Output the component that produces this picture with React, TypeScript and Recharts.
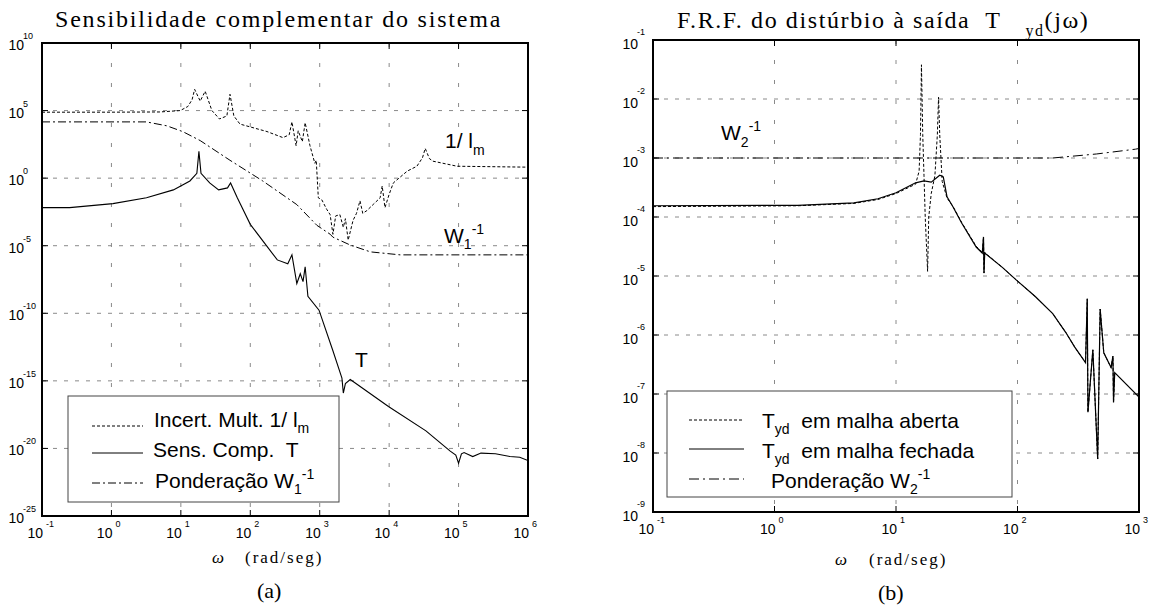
import { LineChart, Line, XAxis, YAxis, CartesianGrid } from 'recharts'

// ---- panel (a): Sensibilidade complementar ----
const xTicksA = [0.1, 1, 10, 100, 1e3, 1e4, 1e5, 1e6]
const yTicksA = [1e-25, 1e-20, 1e-15, 1e-10, 1e-5, 1, 1e5, 1e10]

const wIncert = [0.1, 1, 5, 9.8, 12.6, 14.5, 15.8, 19, 22.4, 28, 36, 46, 51, 58, 71, 174, 295, 363, 398, 457, 490, 562, 617, 724, 851, 891, 955, 1072, 1259, 1413, 1549, 1698, 1950, 2188, 2344, 2570, 3020, 3388, 3802, 4169, 4786, 6026, 7413, 7943, 8710, 10000, 11480, 18200, 25100, 30200, 33100, 38000, 42700, 95500, 1e6]
const magIncert = [7.6e4, 7.6e4, 7.9e4, 1e5, 2e5, 6.3e5, 3.7e6, 5e5, 2.7e6, 1e5, 2.4e4, 4e4, 1.6e6, 4e4, 1e4, 2.8e3, 1e3, 1.6e3, 1.45e4, 250, 3.2e3, 500, 1.26e4, 250, 12.6, 21, 0.035, 0.025, 5e-3, 2e-3, 7e-5, 1.6e-3, 2e-3, 2.3e-4, 1e-3, 2.6e-5, 7.4e-4, 2.5e-3, 0.021, 2.5e-3, 4e-3, 0.0126, 0.035, 0.26, 6.6e-3, 0.063, 0.44, 3.3, 7.6, 32, 158, 28, 18, 7.6, 6.5]

const wW1 = [0.1, 3.2, 6.3, 10.7, 19, 51, 151, 468, 912, 1413, 1549, 2754, 5370, 14450, 1e6]
const magW1 = [1.45e4, 1.45e4, 7.4e3, 2.75e3, 600, 21, 0.62, 0.011, 3.2e-4, 7.1e-5, 4.3e-5, 1.12e-5, 3.5e-6, 2.1e-6, 2.1e-6]

const wT = [0.1, 0.25, 1.05, 3.2, 7.8, 13.5, 17, 18.2, 19.5, 26, 35, 47, 52, 65, 100, 245, 347, 398, 468, 525, 575, 617, 676, 977, 1549, 2089, 2188, 2344, 2754, 9772, 33880, 75860, 91200, 1e5, 1.1e5, 1.2e5, 1.6e5, 2.1e5, 3.4e5, 5.5e5, 7.6e5, 1e6]
const magT = [6.6e-3, 6.6e-3, 0.013, 0.035, 0.135, 0.62, 2.3, 95, 2.3, 0.44, 0.135, 0.19, 0.44, 0.035, 3.8e-4, 8.9e-7, 4.6e-7, 2.1e-6, 1.6e-8, 8.5e-8, 2.2e-8, 2.75e-7, 1.8e-9, 1.7e-10, 1.7e-13, 1.6e-15, 1.26e-16, 6.3e-16, 1.26e-15, 1.26e-17, 2e-19, 6.3e-21, 3.2e-21, 8e-22, 4e-21, 5e-21, 2.5e-21, 4.5e-21, 4e-21, 2.5e-21, 2.2e-21, 1.26e-21]

// ---- panel (b): F.R.F. do disturbio ----
const xTicksB = [0.1, 1, 10, 100, 1000]
const yTicksB = [1e-9, 1e-8, 1e-7, 1e-6, 1e-5, 1e-4, 1e-3, 1e-2, 1e-1]

const wOpen = [0.1, 1.55, 4.5, 7.1, 10, 14.5, 15.5, 15.9, 16.2, 16.6, 17, 17.4, 18.2, 18.6, 19.5, 20.9, 21.9, 22.4, 22.9, 24, 26.3, 29.5, 34.7, 45.7, 51.3, 52.5, 53, 53.7, 75, 98, 140, 195, 250, 295, 330, 363, 375, 380, 417, 457, 479, 513, 589, 610, 617, 631, 1000]
const magOpen = [1.5e-4, 1.55e-4, 1.7e-4, 1.98e-4, 2.5e-4, 3.6e-4, 6e-4, 2.5e-3, 3.8e-2, 2.5e-3, 5e-4, 1e-4, 1.2e-5, 1e-4, 2.5e-4, 5e-4, 2.5e-3, 1.07e-2, 2.5e-3, 4e-4, 2.1e-4, 1.5e-4, 8.1e-5, 3.2e-5, 2.5e-5, 4.6e-5, 1.12e-5, 2.5e-5, 1.4e-5, 8.5e-6, 4.5e-6, 2.3e-6, 1.1e-6, 6.3e-7, 4.5e-7, 3.4e-7, 4.1e-6, 4.9e-8, 5.6e-7, 7.9e-9, 2.75e-6, 5e-7, 2.8e-7, 4.4e-7, 7.2e-8, 2.3e-7, 8.9e-8]

const wClosed = [0.1, 1.55, 4.5, 7.1, 10, 14.5, 17, 19.5, 22.9, 24.5, 26.3, 29.5, 34.7, 45.7, 51.3, 52.5, 53, 53.7, 75, 98, 140, 195, 250, 295, 330, 363, 375, 380, 417, 457, 479, 513, 589, 610, 617, 631, 1000]
const magClosed = [1.55e-4, 1.58e-4, 1.74e-4, 2.04e-4, 2.57e-4, 3.8e-4, 4.1e-4, 3.9e-4, 5.1e-4, 4.8e-4, 2.2e-4, 1.48e-4, 7.9e-5, 3.1e-5, 2.45e-5, 4.6e-5, 1.12e-5, 2.45e-5, 1.4e-5, 8.5e-6, 4.5e-6, 2.3e-6, 1.1e-6, 6.3e-7, 4.5e-7, 3.4e-7, 4.1e-6, 4.9e-8, 5.6e-7, 7.9e-9, 2.75e-6, 5e-7, 2.8e-7, 4.4e-7, 7.2e-8, 2.3e-7, 8.9e-8]

const wW2 = [0.1, 195, 447, 933, 1000]
const magW2 = [1e-3, 1e-3, 1.17e-3, 1.41e-3, 1.45e-3]

const toPts = (xs: number[], ys: number[]) => xs.map((x, i) => ({ x, y: ys[i] }))

const SANS = '"Liberation Sans", Arial, sans-serif'
const SERIF = '"Liberation Serif", "Times New Roman", serif'

const expOf = (v: number) => Math.round(Math.log10(v))

const XTick = (props: any) => {
  const { x, y, payload } = props
  return (
    <g>
      <line x1={x} x2={x} y1={y} y2={y - 6} stroke="#000" />
      <text x={x + 1} y={y + 22} textAnchor="end" fontSize={14} fontFamily={SANS} fill="#000">10</text>
      <text x={x + 4} y={y + 11} fontSize={9} fontFamily={SANS} fill="#000">{expOf(payload.value)}</text>
    </g>
  )
}

const makeYTick = (endOff: number, base: number, sup: number) => (props: any) => {
  const { x, y, payload } = props
  return (
    <g>
      <line x1={x} x2={x + 6} y1={y} y2={y} stroke="#000" />
      <text x={x - endOff} y={y + base} textAnchor="end" fontSize={14} fontFamily={SANS} fill="#000">10</text>
      <text x={x - endOff - 1} y={y + sup} fontSize={9} fontFamily={SANS} fill="#000">{expOf(payload.value)}</text>
    </g>
  )
}
const YTickA = makeYTick(18, 7, -4)
const YTickB = makeYTick(15, 9, -5)
const TopTick = (props: any) => <line x1={props.x} x2={props.x} y1={props.y} y2={props.y + 6} stroke="#000" />
const RightTick = (props: any) => <line x1={props.x} x2={props.x - 6} y1={props.y} y2={props.y} stroke="#000" />

const Frame = ({ xTicks, yTicks, xDom, yDom, YTick, yw }: any) => [
  <CartesianGrid key="gh" vertical={false} stroke="#8a8a8a" strokeDasharray="4 7" />,
  <CartesianGrid key="gv" horizontal={false} stroke="#8a8a8a" strokeDasharray="4 16" />,
  <XAxis key="xb" dataKey="x" type="number" scale="log" domain={xDom} ticks={xTicks} interval={0} allowDataOverflow
    height={40} stroke="#000" strokeWidth={2} tickLine={false} tickSize={0} tickMargin={0} tick={<XTick />} />,
  <XAxis key="xt" xAxisId="top" orientation="top" dataKey="x" type="number" scale="log" domain={xDom} ticks={xTicks} interval={0} allowDataOverflow
    height={1} stroke="#000" strokeWidth={2} tickLine={false} tickSize={0} tickMargin={0} tick={<TopTick />} />,
  <YAxis key="yl" type="number" scale="log" domain={yDom} ticks={yTicks} interval={0} allowDataOverflow
    width={yw} stroke="#000" strokeWidth={2} tickLine={false} tickSize={0} tickMargin={0} tick={<YTick />} />,
  <YAxis key="yr" yAxisId="right" orientation="right" type="number" scale="log" domain={yDom} ticks={yTicks} interval={0} allowDataOverflow
    width={1} stroke="#000" strokeWidth={2} tickLine={false} tickSize={0} tickMargin={0} tick={<RightTick />} />,
]

const ChartA = () => (
  <LineChart width={540} height={610} margin={{ top: 42, right: 11, bottom: 54, left: 0 }}>
    {Frame({ xTicks: xTicksA, yTicks: yTicksA, xDom: [0.1, 1e6], yDom: [1e-25, 1e10], YTick: YTickA, yw: 42 })}
    <Line data={toPts(wW1, magW1)} dataKey="y" stroke="#000" strokeWidth={1} strokeDasharray="8 3 2 3" dot={false} isAnimationActive={false} />
    <Line data={toPts(wIncert, magIncert)} dataKey="y" stroke="#000" strokeWidth={1} strokeDasharray="3 2" dot={false} isAnimationActive={false} />
    <Line data={toPts(wT, magT)} dataKey="y" stroke="#000" strokeWidth={1.1} dot={false} isAnimationActive={false} />
  </LineChart>
)

const ChartB = () => (
  <LineChart width={550} height={610} margin={{ top: 39, right: 10, bottom: 58, left: 0 }}>
    {Frame({ xTicks: xTicksB, yTicks: yTicksB, xDom: [0.1, 1000], yDom: [1e-9, 1e-1], YTick: YTickB, yw: 53 })}
    <Line data={toPts(wW2, magW2)} dataKey="y" stroke="#000" strokeWidth={1} strokeDasharray="10 4 2 4" dot={false} isAnimationActive={false} />
    <Line data={toPts(wOpen, magOpen)} dataKey="y" stroke="#000" strokeWidth={1} strokeDasharray="3 2" dot={false} isAnimationActive={false} />
    <Line data={toPts(wClosed, magClosed)} dataKey="y" stroke="#000" strokeWidth={1.2} dot={false} isAnimationActive={false} />
  </LineChart>
)

const txt = { fontFamily: SANS, fontSize: 21, fill: '#000', whiteSpace: 'pre' as const }
const ser = { fontFamily: SERIF, fill: '#000', whiteSpace: 'pre' as const }

const Overlay = () => (
  <svg width={1150} height={610} style={{ position: 'absolute', left: 0, top: 0, pointerEvents: 'none' }}>
    {/* plot frames */}
    <rect x={42} y={43} width={486} height={473} fill="none" stroke="#000" strokeWidth={2} />
    <rect x={653} y={40} width={486} height={472} fill="none" stroke="#000" strokeWidth={2} />

    {/* titles */}
    <text x={55} y={27} style={ser} fontSize={24} letterSpacing={1.8}>Sensibilidade complementar do sistema</text>
    <text x={677} y={28} style={ser} fontSize={24} letterSpacing={1.6}>
      F.R.F. do distúrbio à saída  T<tspan dx={24} dy={8} fontSize={16}>yd</tspan><tspan dy={-8}>(jω)</tspan>
    </text>

    {/* axis labels */}
    <text x={212} y={563} style={ser} fontSize={17} fontStyle="italic">ω</text>
    <text x={245} y={563} style={ser} fontSize={17} letterSpacing={2}>(rad/seg)</text>
    <text x={257} y={598} style={ser} fontSize={22}>(a)</text>
    <text x={835} y={565} style={ser} fontSize={17} fontStyle="italic">ω</text>
    <text x={869} y={565} style={ser} fontSize={17} letterSpacing={2}>(rad/seg)</text>
    <text x={878} y={600} style={ser} fontSize={22}>(b)</text>

    {/* annotations panel a */}
    <text x={445} y={148} style={txt}>1/ l<tspan dy={7} fontSize={14}>m</tspan></text>
    <text x={444} y={243} style={txt}>W<tspan dy={6} fontSize={14}>1</tspan><tspan dy={-15} fontSize={14}>-1</tspan></text>
    <text x={355} y={367} style={txt}>T</text>

    {/* annotation panel b */}
    <text x={721} y={140} style={txt}>W<tspan dy={7} fontSize={14}>2</tspan><tspan dy={-16} fontSize={14}>-1</tspan></text>

    {/* legend a */}
    <rect x={68} y={396} width={271} height={106} fill="#fff" stroke="#444" strokeWidth={1} />
    <line x1={92} x2={143} y1={426} y2={426} stroke="#000" strokeDasharray="3 2" />
    <line x1={92} x2={143} y1={453} y2={453} stroke="#000" />
    <line x1={92} x2={143} y1={483} y2={483} stroke="#000" strokeDasharray="8 3 2 3" />
    <text x={154} y={427} style={txt}>Incert. Mult. 1/ l<tspan dy={6} fontSize={14}>m</tspan></text>
    <text x={153} y={457} style={txt}>Sens. Comp.  T</text>
    <text x={155} y={488} style={txt}>Ponderação W<tspan dy={6} fontSize={14}>1</tspan><tspan dy={-15} fontSize={14}>-1</tspan></text>

    {/* legend b */}
    <rect x={667} y={391} width={345} height={106} fill="#fff" stroke="#444" strokeWidth={1} />
    <line x1={689} x2={744} y1={420} y2={420} stroke="#000" strokeDasharray="3 2" />
    <line x1={689} x2={744} y1={449} y2={449} stroke="#000" />
    <line x1={689} x2={744} y1={479} y2={479} stroke="#000" strokeDasharray="10 4 2 4" />
    <text x={762} y={428} style={txt}>T<tspan dy={6} fontSize={14}>yd</tspan><tspan dy={-6}>  em malha aberta</tspan></text>
    <text x={762} y={458} style={txt}>T<tspan dy={6} fontSize={14}>yd</tspan><tspan dy={-6}>  em malha fechada</tspan></text>
    <text x={771} y={488} style={txt}>Ponderação W<tspan dy={6} fontSize={14}>2</tspan><tspan dy={-15} fontSize={14}>-1</tspan></text>
  </svg>
)

export default function App() {
  return (
    <div style={{ position: 'absolute', left: 0, top: 0, width: 1150, height: 610, background: '#fff' }}>
      <div style={{ position: 'absolute', left: 0, top: 0 }}>
        <ChartA />
      </div>
      <div style={{ position: 'absolute', left: 600, top: 0 }}>
        <ChartB />
      </div>
      <Overlay />
    </div>
  )
}
